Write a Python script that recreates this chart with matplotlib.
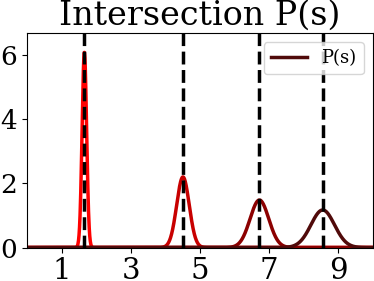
import numpy as np
import matplotlib
matplotlib.use('Agg')
import matplotlib.pyplot as plt

# peak positions, heights and widths
centers = [1.66, 4.51, 6.72, 8.55]
heights = [6.08, 2.20, 1.48, 1.17]
sigmas = [0.0656, 0.181, 0.27, 0.34]
colors = ['#ff0000', '#c80000', '#8c0000', '#500a0a']
xticks = [1, 3, 5, 7, 9]
yticks = [0, 2, 4, 6]

plt.rcParams['font.family'] = 'DejaVu Serif'

fig = plt.figure(figsize=(3.74, 2.81), dpi=100)
ax = fig.add_axes([0.072, 0.119, 0.925, 0.764])

s = np.linspace(0.0, 10.0, 2000)
for i, (c, h, sg, col) in enumerate(zip(centers, heights, sigmas, colors)):
    p = h * np.exp(-0.5 * ((s - c) / sg) ** 2)
    label = 'P(s)' if i == len(centers) - 1 else None
    ax.plot(s, p, color=col, linewidth=2.5, label=label)

for c in centers:
    ax.axvline(c, color='black', linestyle='--', linewidth=2.5)

ax.set_xlim(0, 10)
ax.set_ylim(0, max(heights) * 1.1)
ax.set_xticks(xticks)
ax.set_yticks(yticks)
ax.tick_params(axis='x', which='major', labelsize=21)
ax.tick_params(axis='y', which='major', labelsize=19)
ax.set_title('Intersection P(s)', fontsize=24)
ax.legend(loc='upper right', fontsize=13)

fig.savefig('out.png', dpi=100)
